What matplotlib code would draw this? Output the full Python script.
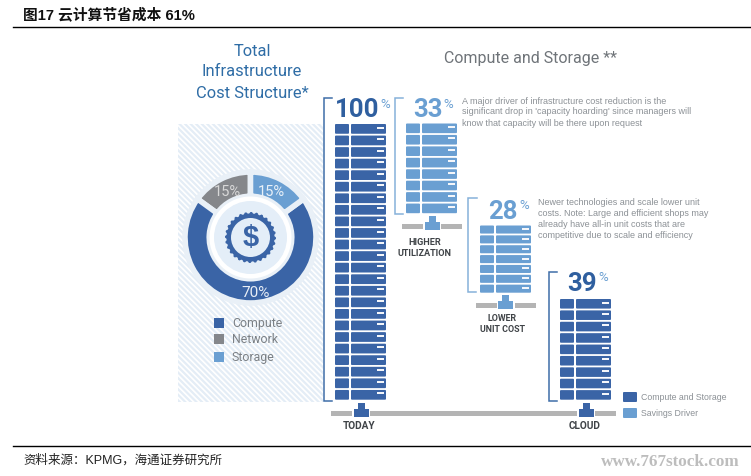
#!/usr/bin/env python3
"""Cloud cost infographic: donut of infrastructure cost and server rack stacks."""

import matplotlib
matplotlib.use('Agg')
import matplotlib.pyplot as plt
from matplotlib.patches import FancyBboxPatch, Rectangle, Circle, Polygon
import numpy as np

# ─── Data ───
cost_labels = ["Network", "Compute", "Storage"]
cost_shares = [15, 70, 15]

rack_pcts = [100, 33, 28, 39]
rack_units = [24, 8, 7, 9]

title_lines = ["Total", "Infrastructure", "Cost Structure*"]
note_one = ["A major driver of infrastructure cost reduction is the",
            "significant drop in 'capacity hoarding' since managers will",
            "know that capacity will be there upon request"]
note_two = ["Newer technologies and scale lower unit",
            "costs. Note: Large and efficient shops may",
            "already have all-in unit costs that are",
            "competitive due to scale and efficiency"]

DARK = "#3a64a6"
LIGHT = "#6a9fd2"
GREY = "#85878b"
SANS = ["Liberation Sans", "Noto Sans CJK SC"]
NARROW = "Roboto"

plt.rcParams['hatch.linewidth'] = 1.6
plt.rcParams['font.family'] = SANS

fig = plt.figure(figsize=(7.51, 4.77), dpi=100)
ax = fig.add_axes([0, 0, 1, 1])
ax.set_xlim(0, 751)
ax.set_ylim(477, 0)
ax.axis("off")


def draw_rack(x, top, bottom, units, color):
    pitch = (bottom - top) / units
    for i in range(units):
        y = top + i * pitch
        h = pitch - 1.8
        for bx, bw in [(x, 14), (x + 16, 35)]:
            ax.add_patch(FancyBboxPatch((bx + 1, y + 1), bw - 2, h - 2,
                                        boxstyle="round,pad=1", fc=color, ec="none", zorder=3))
        ax.add_patch(Rectangle((x + 41.5, y + 2.5), 7, 2, fc="#f4f6fa", ec="none", zorder=4))


def draw_stand(cx, bar_left, bar_right, y, color):
    # y is the top of the grey bar
    ax.add_patch(Rectangle((bar_left, y), bar_right - bar_left, 5, fc="#b4b4b4", ec="none", zorder=1))
    ax.add_patch(Rectangle((cx - 9, y - 1), 18, 7, fc="white", ec="none", zorder=2))
    ax.add_patch(Rectangle((cx - 7.5, y - 2), 15, 8, fc=color, ec="none", zorder=3))
    ax.add_patch(Rectangle((cx - 3.5, y - 8), 7, 8, fc=color, ec="none", zorder=3))


def draw_bracket(x, top, bottom, tick_top, tick_bottom, color):
    ax.plot([x + tick_top, x, x, x + tick_bottom], [top, top, bottom, bottom],
            color=color, lw=1.1, solid_joinstyle="miter", zorder=2)


# ─── Frame text ───
ax.plot([13, 751], [28, 28], color="black", lw=1.0)
ax.plot([13, 751], [447, 447], color="black", lw=1.0)
ax.text(23, 15.5, "图17 云计算节省成本 61%", fontsize=10.6, fontweight="bold", va="center", color="#111111")
ax.text(23, 460, "资料来源：KPMG，海通证券研究所", fontsize=9, va="center", color="#222222")
ax.text(740, 462, "www.767stock.com", fontsize=12.3, ha="right", va="center", color="#bdbdbd",
        family="Liberation Serif", fontweight="bold")

# ─── Left panel ───
ax.add_patch(Rectangle((178, 125), 145, 278, fc="white", ec="#e4edf6", hatch="\\\\\\\\\\\\", lw=0, zorder=0))

for i, line in enumerate(title_lines):
    ax.text(252, [51, 72, 94][i], line, fontsize=11.9, ha="center", va="center", color="#2f6da6", family=NARROW)

# donut lives in its own square axes, centred at pixel (250.5, 238.5)
pie_r = 65.5
pie_ax = fig.add_axes([(250.5 - pie_r) / 751, 1 - (238.5 + pie_r) / 477, 2 * pie_r / 751, 2 * pie_r / 477])
pie_ax.pie(cost_shares, colors=[GREY, DARK, LIGHT], startangle=90, counterclock=True, radius=1.0,
           wedgeprops=dict(width=0.37, edgecolor="#e9f0f7", linewidth=4))
pie_ax.set_xlim(-1, 1)
pie_ax.set_ylim(-1, 1)
pie_ax.patch.set_alpha(0)

ax_top = fig.add_axes([0, 0, 1, 1])
ax_top.set_xlim(0, 751)
ax_top.set_ylim(477, 0)
ax_top.axis("off")
ax_top.patch.set_alpha(0)

cx, cy = 250.5, 238.5
ax_top.add_patch(Circle((cx, cy), 41, fc="white", ec="none"))
ax_top.add_patch(Circle((cx, cy), 36.5, fc="#e4eef8", ec="none"))
teeth = 28
theta = np.linspace(0, 2 * np.pi, teeth * 4, endpoint=False)
radii = np.tile([25.5, 25.5, 24, 24], teeth)
ax_top.add_patch(Polygon(np.c_[cx + radii * np.cos(theta), cy + radii * np.sin(theta)], fc=DARK, ec="none"))
ax_top.add_patch(Circle((cx, cy), 19.5, fc="#e4eef8", ec="none"))
ax_top.text(cx, cy, "$", fontsize=21, fontweight="bold", ha="center", va="center", color=DARK,
            family="Liberation Sans")

ax_top.text(227, 192, f"{cost_shares[0]}%", fontsize=10.5, ha="center", va="center", color="#d8d8d8", family=NARROW)
ax_top.text(271, 192, f"{cost_shares[2]}%", fontsize=10.5, ha="center", va="center", color="#e8f0f8", family=NARROW)
ax_top.text(256, 293, f"{cost_shares[1]}%", fontsize=11, ha="center", va="center", color="#e8eef6", family=NARROW)

legend_order = [("Compute", DARK, 324), ("Network", GREY, 340), ("Storage", LIGHT, 358)]
for name, color, y in legend_order:
    ax_top.add_patch(Rectangle((214, y - 5), 10, 10, fc=color, ec="none"))
    ax_top.text(232, y, name, fontsize=8.9, va="center", color="#7b8085", family=NARROW)

# ─── Racks ───
rack_x = [335, 406, 480, 560]
rack_top = [125, 124.5, 226.5, 300]
rack_bottom = [402.5, 216, 295.5, 402.5]
rack_color = [DARK, LIGHT, LIGHT, DARK]
for x, t, b, n, c in zip(rack_x, rack_top, rack_bottom, rack_units, rack_color):
    draw_rack(x, t, b, n, c)

draw_stand(361, 331, 616, 412, DARK)
draw_stand(586, 331, 616, 412, DARK)
draw_stand(432, 402, 462, 225, LIGHT)
draw_stand(505.5, 476, 536, 304, LIGHT)

draw_bracket(324, 99, 402, 8, 8, "#3f6ea8")
draw_bracket(395, 99, 215, 8, 8, "#86b1da")
draw_bracket(468, 199, 293, 9, 8, "#86b1da")
draw_bracket(548.5, 273, 402, 8, 8, "#3f6ea8")

# percent figures: number then small % sign
pct_pos = [(357, 110, 385), (428, 110, 448), (503, 212, 524), (582, 284, 603)]
pct_colors = ["#2f5f9f", LIGHT, LIGHT, "#2f5f9f"]
for p, (x, y, px), nc in zip(rack_pcts, pct_pos, pct_colors):
    ax.text(x, y, str(p), fontsize=18.5, fontweight="bold", ha="center", va="center", color=nc, family=NARROW)
    ax.text(px, y - 6, "%", fontsize=9.5, ha="center", va="center", color=LIGHT, family=NARROW)

for i, line in enumerate(note_one):
    ax.text(462, 101 + i * 11, line, fontsize=6.5, va="center", color="#8c9196")
for i, line in enumerate(note_two):
    ax.text(538, 203 + i * 11, line, fontsize=6.5, va="center", color="#8c9196")

ax.text(531, 58, "Compute and Storage **", fontsize=11.5, ha="center", va="center", color="#6f7479", family=NARROW)

for x, y, s, size in [(425, 243, "HIGHER", 6.6), (425, 254, "UTILIZATION", 6.6), (502, 319, "LOWER", 6.4),
                      (502, 330, "UNIT COST", 6.4), (359, 426, "TODAY", 7.2), (585, 426, "CLOUD", 7.2)]:
    ax.text(x, y, s, fontsize=size, fontweight="bold", ha="center", va="center", color="#3f4347", family=NARROW)

# bottom right key
ax.add_patch(FancyBboxPatch((624, 394), 12, 8, boxstyle="round,pad=1", fc=DARK, ec="none"))
ax.add_patch(FancyBboxPatch((624, 410), 12, 8, boxstyle="round,pad=1", fc=LIGHT, ec="none"))
ax.text(641, 398, "Compute and Storage", fontsize=6.3, va="center", color="#8c9196")
ax.text(641, 413.5, "Savings Driver", fontsize=6.3, va="center", color="#8c9196")

fig.savefig("out.png", dpi=100, facecolor="white")
plt.close()
print("out.png saved")
